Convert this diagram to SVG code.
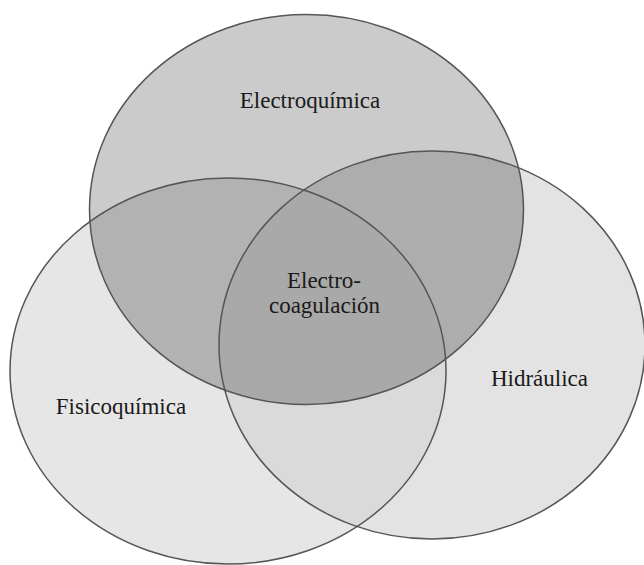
<svg xmlns="http://www.w3.org/2000/svg" width="644" height="565" viewBox="0 0 644 565">
<style>
.lbl{font-family:"Liberation Serif","Times New Roman",serif;font-size:23px;fill:#1a1a1a;text-anchor:middle}
.edge{fill:none;stroke:#555;stroke-width:1.5}
</style>
<defs>
<ellipse id="eT" cx="306.5" cy="209.5" rx="217" ry="195"/>
<ellipse id="eL" cx="228" cy="371" rx="218" ry="193"/>
<ellipse id="eR" cx="432" cy="345" rx="213" ry="194"/>
<clipPath id="cL"><use href="#eL"/></clipPath>
<clipPath id="cR"><use href="#eR"/></clipPath>
<clipPath id="cLR" clip-path="url(#cL)"><use href="#eR"/></clipPath>
</defs>
<rect width="644" height="565" fill="#ffffff"/>
<g id="fills">
<use href="#eL" fill="#e6e6e6"/>
<use href="#eR" fill="#e3e3e3"/>
<use href="#eR" fill="#dadada" clip-path="url(#cL)"/>
<use href="#eT" fill="#cbcbcb"/>
<use href="#eT" fill="#b2b2b2" clip-path="url(#cL)"/>
<use href="#eT" fill="#adadad" clip-path="url(#cR)"/>
<use href="#eT" fill="#a9a9a9" clip-path="url(#cLR)"/>
</g>
<g id="fisicoquimica">
<use href="#eL" class="edge"/>
<text class="lbl" x="121" y="414">Fisicoquímica</text>
</g>
<g id="hidraulica">
<use href="#eR" class="edge"/>
<text class="lbl" x="539.5" y="386">Hidráulica</text>
</g>
<g id="electroquimica">
<use href="#eT" class="edge"/>
<text class="lbl" x="310" y="108">Electroquímica</text>
</g>
<g id="electrocoagulacion">
<text class="lbl" x="324" y="288">Electro-</text>
<text class="lbl" x="324.5" y="313">coagulación</text>
</g>
<g id="connectors"/>
</svg>
